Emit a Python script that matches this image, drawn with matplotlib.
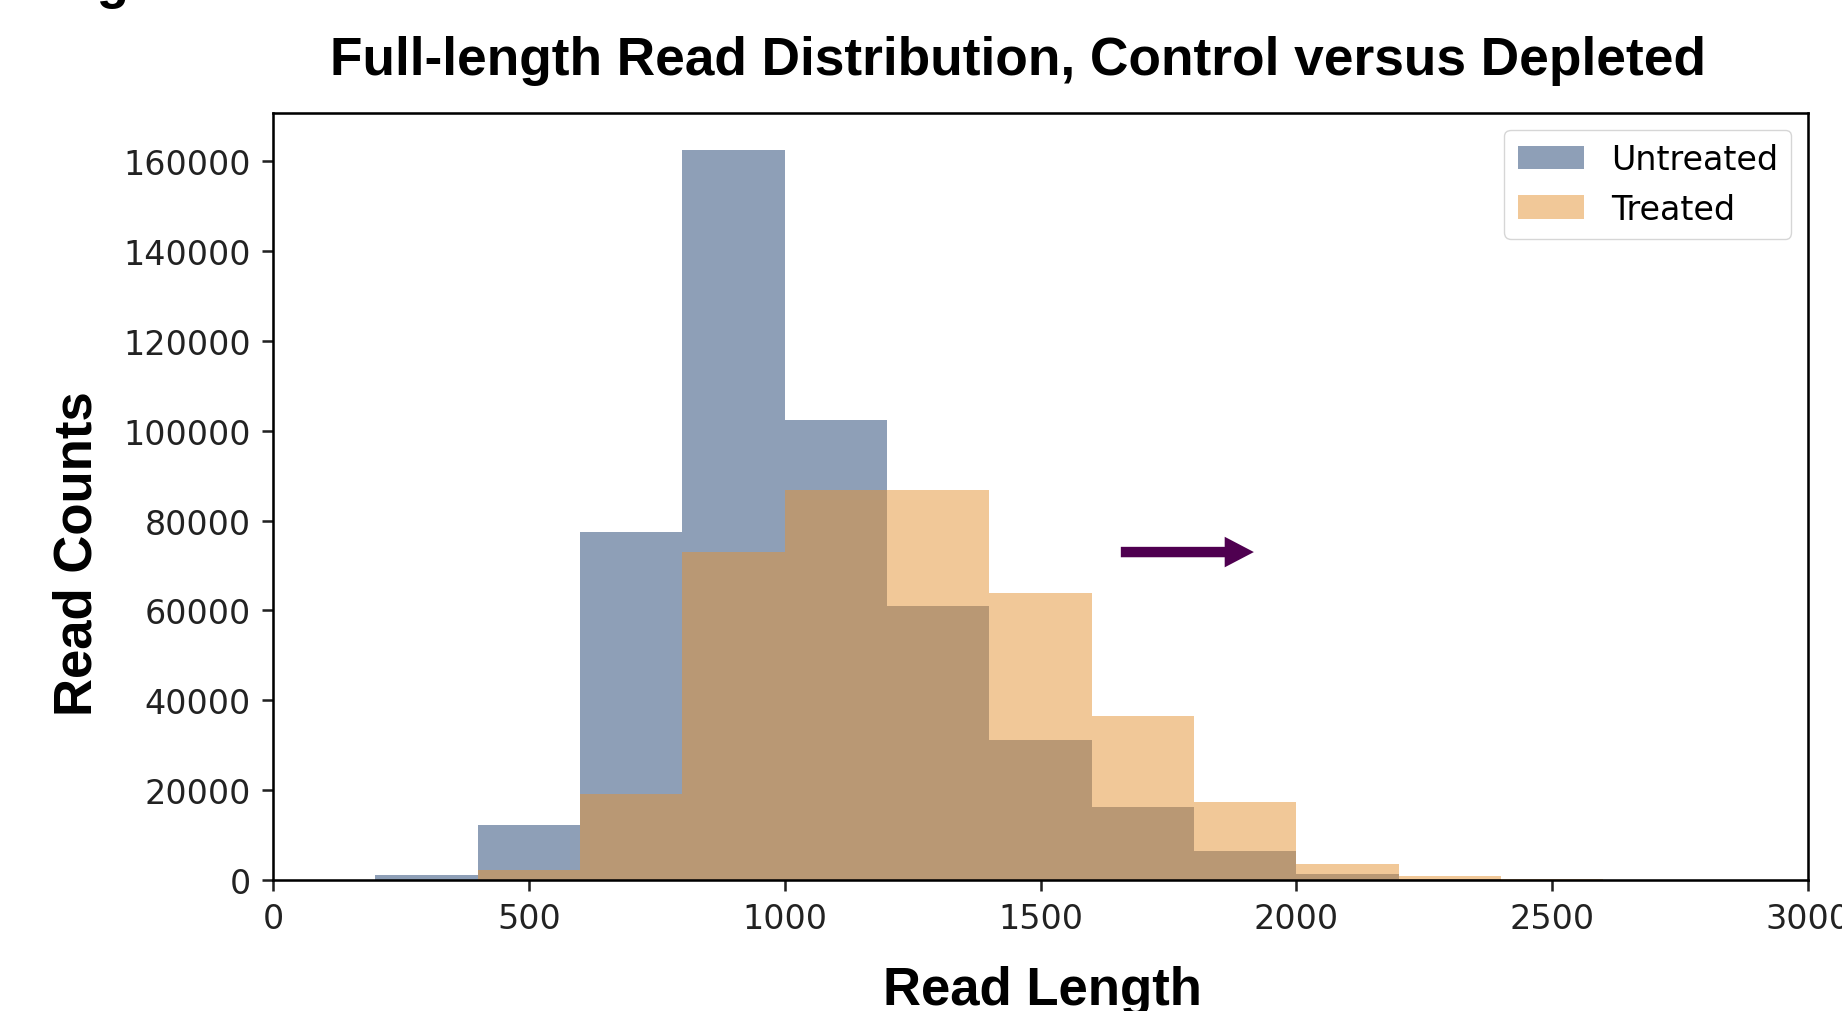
import numpy as np
import matplotlib
matplotlib.use("Agg")
import matplotlib.pyplot as plt

# histogram bins (read length) and counts
bin_edges = [0, 200, 400, 600, 800, 1000, 1200, 1400, 1600, 1800, 2000, 2200, 2400, 2600, 2800, 3000]
untreated = [0, 1100, 12300, 77400, 162600, 102500, 60900, 31100, 16200, 6500, 1400, 300, 80, 20, 0]
treated = [0, 100, 2300, 19100, 72900, 86800, 86800, 63800, 36600, 17400, 3600, 950, 200, 30, 0]
labels = ["Untreated", "Treated"]

title = "Full-length Read Distribution, Control versus Depleted"
xlab = "Read Length"
ylab = "Read Counts"

S = 2.3  # everything in the source looks scaled up from default sizes

fig = plt.figure(figsize=(18.42, 10.12), dpi=100)
ax = fig.add_axes([273/1842, 1-881/1012, (1808-273)/1842, (881-114)/1012])

edges = np.array(bin_edges, dtype=float)
ax.hist(edges[:-1], bins=edges, weights=untreated, color="#1f4171", alpha=0.5, label=labels[0])
ax.hist(edges[:-1], bins=edges, weights=treated, color="#e59333", alpha=0.5, label=labels[1])

ax.set_xlim(0, 3000)
ax.set_xticks([0, 500, 1000, 1500, 2000, 2500, 3000])
ax.set_yticks(np.arange(0, 160001, 20000))

for sp in ax.spines.values():
    sp.set_linewidth(0.8*S)
ax.tick_params(labelsize=24, length=3.5*S, width=0.8*S, pad=3.5*S, colors="#222222", labelcolor="#222222")

leg = ax.legend(loc="upper right", fontsize=24, framealpha=0.8)

# arrow pointing right
ax.annotate("", xy=(1917, 73000), xytext=(1657, 73000),
            arrowprops=dict(arrowstyle="simple,head_length=2.1,head_width=2.2,tail_width=0.75",
                            mutation_scale=10, fc="#4f0050", ec="none", lw=0,
                            shrinkA=0, shrinkB=0))

bold = dict(family=["Liberation Sans", "DejaVu Sans"], fontweight="bold")
fig.text(1018/1842, 1-75/1012, title, ha="center", va="baseline", fontsize=38.3, **bold)
fig.text(1042/1842, 1-1005/1012, xlab, ha="center", va="baseline", fontsize=38, **bold)
fig.text(92/1842, 1-554/1012, ylab, ha="center", va="baseline", rotation=90,
         rotation_mode="anchor", fontsize=38, **bold)
fig.text(50/1842, 1+2/1012, "Figure", ha="left", va="baseline", fontsize=38, **bold)

fig.savefig("out.png", dpi=100)
